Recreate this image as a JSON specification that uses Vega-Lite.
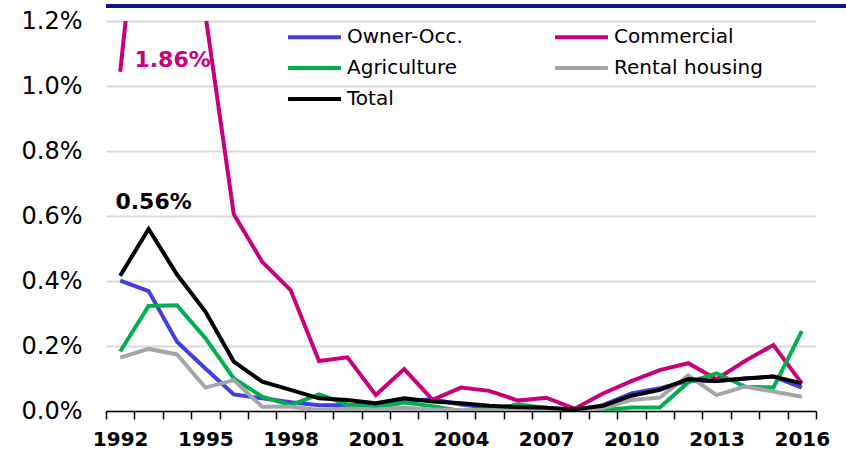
{
  "$schema": "https://vega.github.io/schema/vega-lite/v6.json",
  "padding": 0,
  "spacing": -2,
  "align": "none",
  "background": "white",
  "config": {
    "font": "DejaVu Sans",
    "view": {"stroke": null}
  },
  "datasets": {
    "rates": [
      {"year": 1992, "series": "Owner-Occ.", "value": 0.00401},
      {"year": 1993, "series": "Owner-Occ.", "value": 0.00369},
      {"year": 1994, "series": "Owner-Occ.", "value": 0.00213},
      {"year": 1995, "series": "Owner-Occ.", "value": 0.00131},
      {"year": 1996, "series": "Owner-Occ.", "value": 0.00051},
      {"year": 1997, "series": "Owner-Occ.", "value": 0.00039},
      {"year": 1998, "series": "Owner-Occ.", "value": 0.00027},
      {"year": 1999, "series": "Owner-Occ.", "value": 0.00018},
      {"year": 2000, "series": "Owner-Occ.", "value": 0.00018},
      {"year": 2001, "series": "Owner-Occ.", "value": 0.0002},
      {"year": 2002, "series": "Owner-Occ.", "value": 0.0003},
      {"year": 2003, "series": "Owner-Occ.", "value": 0.00036},
      {"year": 2004, "series": "Owner-Occ.", "value": 0.0002},
      {"year": 2005, "series": "Owner-Occ.", "value": 0.0001},
      {"year": 2006, "series": "Owner-Occ.", "value": 0.00005},
      {"year": 2007, "series": "Owner-Occ.", "value": 0.00003},
      {"year": 2008, "series": "Owner-Occ.", "value": 0.0},
      {"year": 2009, "series": "Owner-Occ.", "value": 0.00018},
      {"year": 2010, "series": "Owner-Occ.", "value": 0.00054},
      {"year": 2011, "series": "Owner-Occ.", "value": 0.0007},
      {"year": 2012, "series": "Owner-Occ.", "value": 0.00092},
      {"year": 2013, "series": "Owner-Occ.", "value": 0.00092},
      {"year": 2014, "series": "Owner-Occ.", "value": 0.001},
      {"year": 2015, "series": "Owner-Occ.", "value": 0.00106},
      {"year": 2016, "series": "Owner-Occ.", "value": 0.00072},

      {"year": 1992, "series": "Commercial", "value": 0.01044},
      {"year": 1993, "series": "Commercial", "value": 0.0186},
      {"year": 1994, "series": "Commercial", "value": 0.0155},
      {"year": 1995, "series": "Commercial", "value": 0.0122},
      {"year": 1996, "series": "Commercial", "value": 0.00605},
      {"year": 1997, "series": "Commercial", "value": 0.00459},
      {"year": 1998, "series": "Commercial", "value": 0.00372},
      {"year": 1999, "series": "Commercial", "value": 0.00154},
      {"year": 2000, "series": "Commercial", "value": 0.00165},
      {"year": 2001, "series": "Commercial", "value": 0.00049},
      {"year": 2002, "series": "Commercial", "value": 0.00129},
      {"year": 2003, "series": "Commercial", "value": 0.00034},
      {"year": 2004, "series": "Commercial", "value": 0.00072},
      {"year": 2005, "series": "Commercial", "value": 0.00062},
      {"year": 2006, "series": "Commercial", "value": 0.00032},
      {"year": 2007, "series": "Commercial", "value": 0.00041},
      {"year": 2008, "series": "Commercial", "value": 0.00007},
      {"year": 2009, "series": "Commercial", "value": 0.00054},
      {"year": 2010, "series": "Commercial", "value": 0.00092},
      {"year": 2011, "series": "Commercial", "value": 0.00126},
      {"year": 2012, "series": "Commercial", "value": 0.00147},
      {"year": 2013, "series": "Commercial", "value": 0.00098},
      {"year": 2014, "series": "Commercial", "value": 0.00154},
      {"year": 2015, "series": "Commercial", "value": 0.00203},
      {"year": 2016, "series": "Commercial", "value": 0.00085},

      {"year": 1992, "series": "Agriculture", "value": 0.00183},
      {"year": 1993, "series": "Agriculture", "value": 0.00323},
      {"year": 1994, "series": "Agriculture", "value": 0.00325},
      {"year": 1995, "series": "Agriculture", "value": 0.00224},
      {"year": 1996, "series": "Agriculture", "value": 0.001},
      {"year": 1997, "series": "Agriculture", "value": 0.00044},
      {"year": 1998, "series": "Agriculture", "value": 0.00018},
      {"year": 1999, "series": "Agriculture", "value": 0.00051},
      {"year": 2000, "series": "Agriculture", "value": 0.0002},
      {"year": 2001, "series": "Agriculture", "value": 0.0001},
      {"year": 2002, "series": "Agriculture", "value": 0.00026},
      {"year": 2003, "series": "Agriculture", "value": 0.00015},
      {"year": 2004, "series": "Agriculture", "value": 0.0},
      {"year": 2005, "series": "Agriculture", "value": 0.00005},
      {"year": 2006, "series": "Agriculture", "value": 0.0002},
      {"year": 2007, "series": "Agriculture", "value": 0.0001},
      {"year": 2008, "series": "Agriculture", "value": 0.0},
      {"year": 2009, "series": "Agriculture", "value": 0.00002},
      {"year": 2010, "series": "Agriculture", "value": 0.00011},
      {"year": 2011, "series": "Agriculture", "value": 0.00011},
      {"year": 2012, "series": "Agriculture", "value": 0.00088},
      {"year": 2013, "series": "Agriculture", "value": 0.00116},
      {"year": 2014, "series": "Agriculture", "value": 0.00075},
      {"year": 2015, "series": "Agriculture", "value": 0.00072},
      {"year": 2016, "series": "Agriculture", "value": 0.00246},

      {"year": 1992, "series": "Rental housing", "value": 0.00164},
      {"year": 1993, "series": "Rental housing", "value": 0.00191},
      {"year": 1994, "series": "Rental housing", "value": 0.00174},
      {"year": 1995, "series": "Rental housing", "value": 0.00072},
      {"year": 1996, "series": "Rental housing", "value": 0.00095},
      {"year": 1997, "series": "Rental housing", "value": 0.00013},
      {"year": 1998, "series": "Rental housing", "value": 0.00013},
      {"year": 1999, "series": "Rental housing", "value": 0.00003},
      {"year": 2000, "series": "Rental housing", "value": 0.00008},
      {"year": 2001, "series": "Rental housing", "value": 0.00005},
      {"year": 2002, "series": "Rental housing", "value": 0.0001},
      {"year": 2003, "series": "Rental housing", "value": 0.00005},
      {"year": 2004, "series": "Rental housing", "value": 0.00002},
      {"year": 2005, "series": "Rental housing", "value": 0.00002},
      {"year": 2006, "series": "Rental housing", "value": 0.00002},
      {"year": 2007, "series": "Rental housing", "value": 0.00002},
      {"year": 2008, "series": "Rental housing", "value": 0.0},
      {"year": 2009, "series": "Rental housing", "value": 0.00008},
      {"year": 2010, "series": "Rental housing", "value": 0.00034},
      {"year": 2011, "series": "Rental housing", "value": 0.00041},
      {"year": 2012, "series": "Rental housing", "value": 0.00109},
      {"year": 2013, "series": "Rental housing", "value": 0.00049},
      {"year": 2014, "series": "Rental housing", "value": 0.00075},
      {"year": 2015, "series": "Rental housing", "value": 0.0006},
      {"year": 2016, "series": "Rental housing", "value": 0.00044},

      {"year": 1992, "series": "Total", "value": 0.00416},
      {"year": 1993, "series": "Total", "value": 0.0056},
      {"year": 1994, "series": "Total", "value": 0.0042},
      {"year": 1995, "series": "Total", "value": 0.00306},
      {"year": 1996, "series": "Total", "value": 0.00152},
      {"year": 1997, "series": "Total", "value": 0.0009},
      {"year": 1998, "series": "Total", "value": 0.00065},
      {"year": 1999, "series": "Total", "value": 0.00039},
      {"year": 2000, "series": "Total", "value": 0.00034},
      {"year": 2001, "series": "Total", "value": 0.00024},
      {"year": 2002, "series": "Total", "value": 0.00039},
      {"year": 2003, "series": "Total", "value": 0.00029},
      {"year": 2004, "series": "Total", "value": 0.00024},
      {"year": 2005, "series": "Total", "value": 0.00016},
      {"year": 2006, "series": "Total", "value": 0.00012},
      {"year": 2007, "series": "Total", "value": 0.0001},
      {"year": 2008, "series": "Total", "value": 0.00005},
      {"year": 2009, "series": "Total", "value": 0.00016},
      {"year": 2010, "series": "Total", "value": 0.00047},
      {"year": 2011, "series": "Total", "value": 0.00065},
      {"year": 2012, "series": "Total", "value": 0.00098},
      {"year": 2013, "series": "Total", "value": 0.00092},
      {"year": 2014, "series": "Total", "value": 0.001},
      {"year": 2015, "series": "Total", "value": 0.00106},
      {"year": 2016, "series": "Total", "value": 0.00085}
    ]
  },
  "vconcat": [
    {
      "width": 846,
      "height": 4,
      "view": {"fill": "#10137F", "stroke": null},
      "data": {"values": [{}]},
      "mark": {"type": "text", "text": ""},
      "encoding": {}
    },
    {
      "width": 710,
      "height": 390,
      "data": {"name": "rates"},
      "encoding": {
        "x": {
          "field": "year",
          "type": "ordinal",
          "bandPosition": 0.5,
          "scale": {"type": "band", "paddingInner": 0, "paddingOuter": 0},
          "axis": {
            "title": null,
            "tickBand": "extent",
            "labelAngle": 0,
            "labelFontSize": 20,
            "labelFontWeight": "bold",
            "labelColor": "#000000",
            "labelPadding": 10,
            "labelOverlap": false,
            "labelExpr": "(datum.value - 1992) % 3 === 0 ? datum.label : ''",
            "tickSize": 8,
            "tickColor": "#000000",
            "tickWidth": 1.5,
            "domainColor": "#000000",
            "domainWidth": 1.5,
            "grid": false
          }
        },
        "y": {
          "field": "value",
          "type": "quantitative",
          "scale": {"domain": [0, 0.012], "nice": false},
          "axis": {
            "title": null,
            "values": [0, 0.002, 0.004, 0.006, 0.008, 0.01, 0.012],
            "format": ".1%",
            "labelFontSize": 24,
            "labelColor": "#000000",
            "labelPadding": 24,
            "ticks": false,
            "domain": false,
            "grid": true,
            "gridColor": "#D9D9D9",
            "gridWidth": 2,
            "minExtent": 106,
            "maxExtent": 106
          }
        }
      },
      "layer": [
        {
          "mark": {"type": "line", "strokeWidth": 4, "clip": true},
          "encoding": {
            "color": {
              "field": "series",
              "type": "nominal",
              "scale": {
                "domain": ["Owner-Occ.", "Commercial", "Agriculture", "Rental housing", "Total"],
                "range": ["#4040E0", "#C8007E", "#00B050", "#A3A6A9", "#000000"]
              },
              "legend": {
                "title": null,
                "orient": "none",
                "direction": "horizontal",
                "legendX": 182,
                "legendY": 12.5,
                "columns": 2,
                "columnPadding": 84,
                "rowPadding": 0,
                "padding": 0,
                "symbolType": "M-1.43,0H1.43",
                "symbolSize": 1369,
                "symbolStrokeWidth": 4,
                "symbolOffset": 6,
                "labelFontSize": 20,
                "labelColor": "#000000",
                "labelOffset": 12,
                "labelLimit": 300
              }
            }
          }
        },
        {
          "transform": [{"filter": "datum.series === 'Total' && datum.year === 1993"}],
          "mark": {"type": "text", "fontSize": 22, "fontWeight": "bold", "color": "#000000", "dx": 5, "dy": -27, "baseline": "middle"},
          "encoding": {
            "text": {"field": "value", "type": "quantitative", "format": ".2%"}
          }
        },
        {
          "transform": [{"filter": "datum.series === 'Commercial' && datum.year === 1993"}],
          "mark": {"type": "text", "fontSize": 22, "fontWeight": "bold", "color": "#C8007E", "dx": 24, "baseline": "middle"},
          "encoding": {
            "y": {"datum": 0.01081},
            "text": {"field": "value", "type": "quantitative", "format": ".2%"}
          }
        }
      ]
    }
  ]
}
